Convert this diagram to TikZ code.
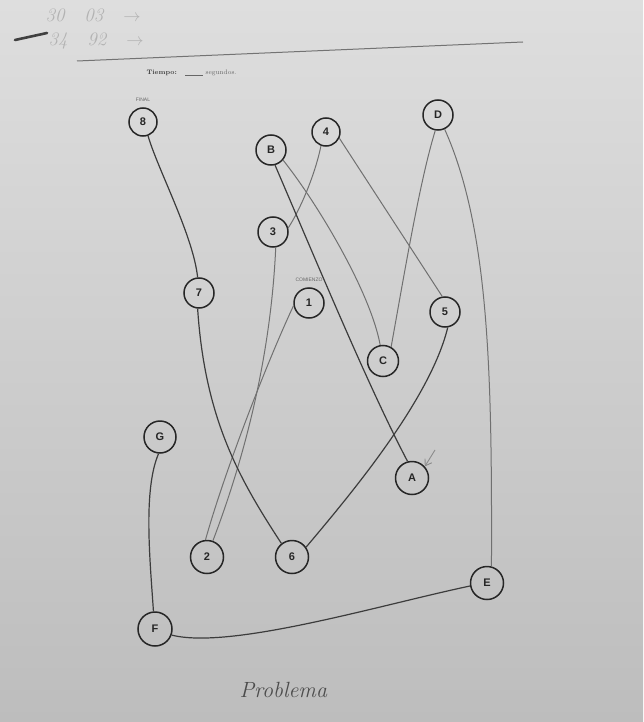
\documentclass[tikz,border=0pt]{standalone}
\usepackage{fontspec}
\setsansfont{Liberation Sans}
\usepackage{tikz}
\usetikzlibrary{positioning, calc, arrows.meta}

\definecolor{paper}{HTML}{DEDEDE}
\definecolor{paperdark}{HTML}{BDBDBD}
\definecolor{pencil}{HTML}{3C3C3C}
\definecolor{pencillight}{HTML}{707070}

\tikzset{
    tmtcirc/.style={circle, draw=black!85, line width=1.5pt, inner sep=0pt,
        font=\sffamily\bfseries\fontsize{11}{11}\selectfont, text=black!85},
    trail/.style={draw=pencil, line width=1.2pt},
    traillight/.style={draw=pencillight, line width=1pt},
    hand/.style={font=\itshape\fontsize{19}{19}\selectfont, text=black!30}
}

\begin{document}
\begin{tikzpicture}[x=1pt, y=1pt, every node/.style={font=\small}]
    % photo background
    \useasboundingbox (0,0) rectangle (643,-722);
    \shade[top color=paper, bottom color=paperdark] (0,0) rectangle (643,-722);

    % form header
    \draw[black!55, line width=1pt] (77,-61) -- (523,-42);
    \node[font=\rmfamily\bfseries\fontsize{6.5}{7}\selectfont, text=black!75, anchor=west] (tiempo) at (143,-73) {Tiempo:};
    \node[font=\rmfamily\fontsize{6.5}{7}\selectfont, text=black!60, right=1pt of tiempo] (segundos) {\underline{\hspace{18pt}}\ segundos.};

    % handwriting
    \node[hand, anchor=west] (note1) at (42,-15) {30\ \ \ 03\ \ \ $\rightarrow$};
    \node[hand, anchor=west] (note2) at (45,-41) {34\ \ \ 92\ \ \ $\rightarrow$};
    \draw[black!75, line width=2.6pt, line cap=round] (15,-40) -- (47,-33);
    \node[hand, text=black!70, font=\itshape\fontsize{22}{22}\selectfont, anchor=west] (problema) at (236,-690) {Problema};

    % circles
    \foreach \lab/\x/\y/\d in {8/143/122/28, B/271/150/30, 4/326/132/28, D/438/115/30,
        3/273/232/30, 7/199/293/30, 1/309/303/30, 5/445/312/30, C/383/361/31,
        G/160/437/32, A/412/478/33, 2/207/557/33, 6/292/557/33, E/487/583/33, F/155/629/34} {
        \node[tmtcirc, minimum size=\d pt] (n\lab) at (\x,-\y) {\lab};
    }
    \node[font=\sffamily\fontsize{5}{5}\selectfont, text=black!60, above=2pt of n8] (final) {FINAL};
    \node[font=\sffamily\fontsize{5}{5}\selectfont, text=black!60, above=2pt of n1] (comienzo) {COMIENZO};

    % numbers 1-8
    \draw[traillight] (n1.190) .. controls (268,-360) and (225,-470) .. (n2.95);
    \draw[traillight] (n2.70) .. controls (255,-430) and (272,-330) .. (n3.-80);
    \draw[traillight] (n3.15) .. controls (300,-210) and (315,-175) .. (n4.-110);
    \draw[traillight] (n4.-25) -- (n5.100);
    \draw[trail] (n5.-80) .. controls (430,-400) and (350,-495) .. (n6.35);
    \draw[trail] (n6.128) .. controls (240,-480) and (205,-420) .. (n7.-95);
    \draw[trail] (n7.95) .. controls (193,-235) and (158,-170) .. (n8.-70);

    % letters A-G
    \draw[trail] (nA.105) .. controls (370,-390) and (320,-270) .. (nB.-75);
    \draw[traillight] (nB.-40) .. controls (315,-200) and (370,-290) .. (nC.100);
    \draw[traillight] (nC.60) .. controls (405,-270) and (420,-180) .. (nD.-100);
    \draw[traillight] (nD.-65) .. controls (490,-230) and (492,-380) .. (nE.75);
    \draw[trail] (nE.190) .. controls (380,-605) and (230,-650) .. (nF.-20);
    \draw[trail] (nF.95) .. controls (150,-560) and (143,-490) .. (nG.-95);

    % mark at A
    \coordinate (tickA) at (435,-450);
    \draw[black!45, line width=.9pt, -{Straight Barb[length=6pt, width=8pt]}] (tickA) -- (nA.42);
\end{tikzpicture}
\end{document}
